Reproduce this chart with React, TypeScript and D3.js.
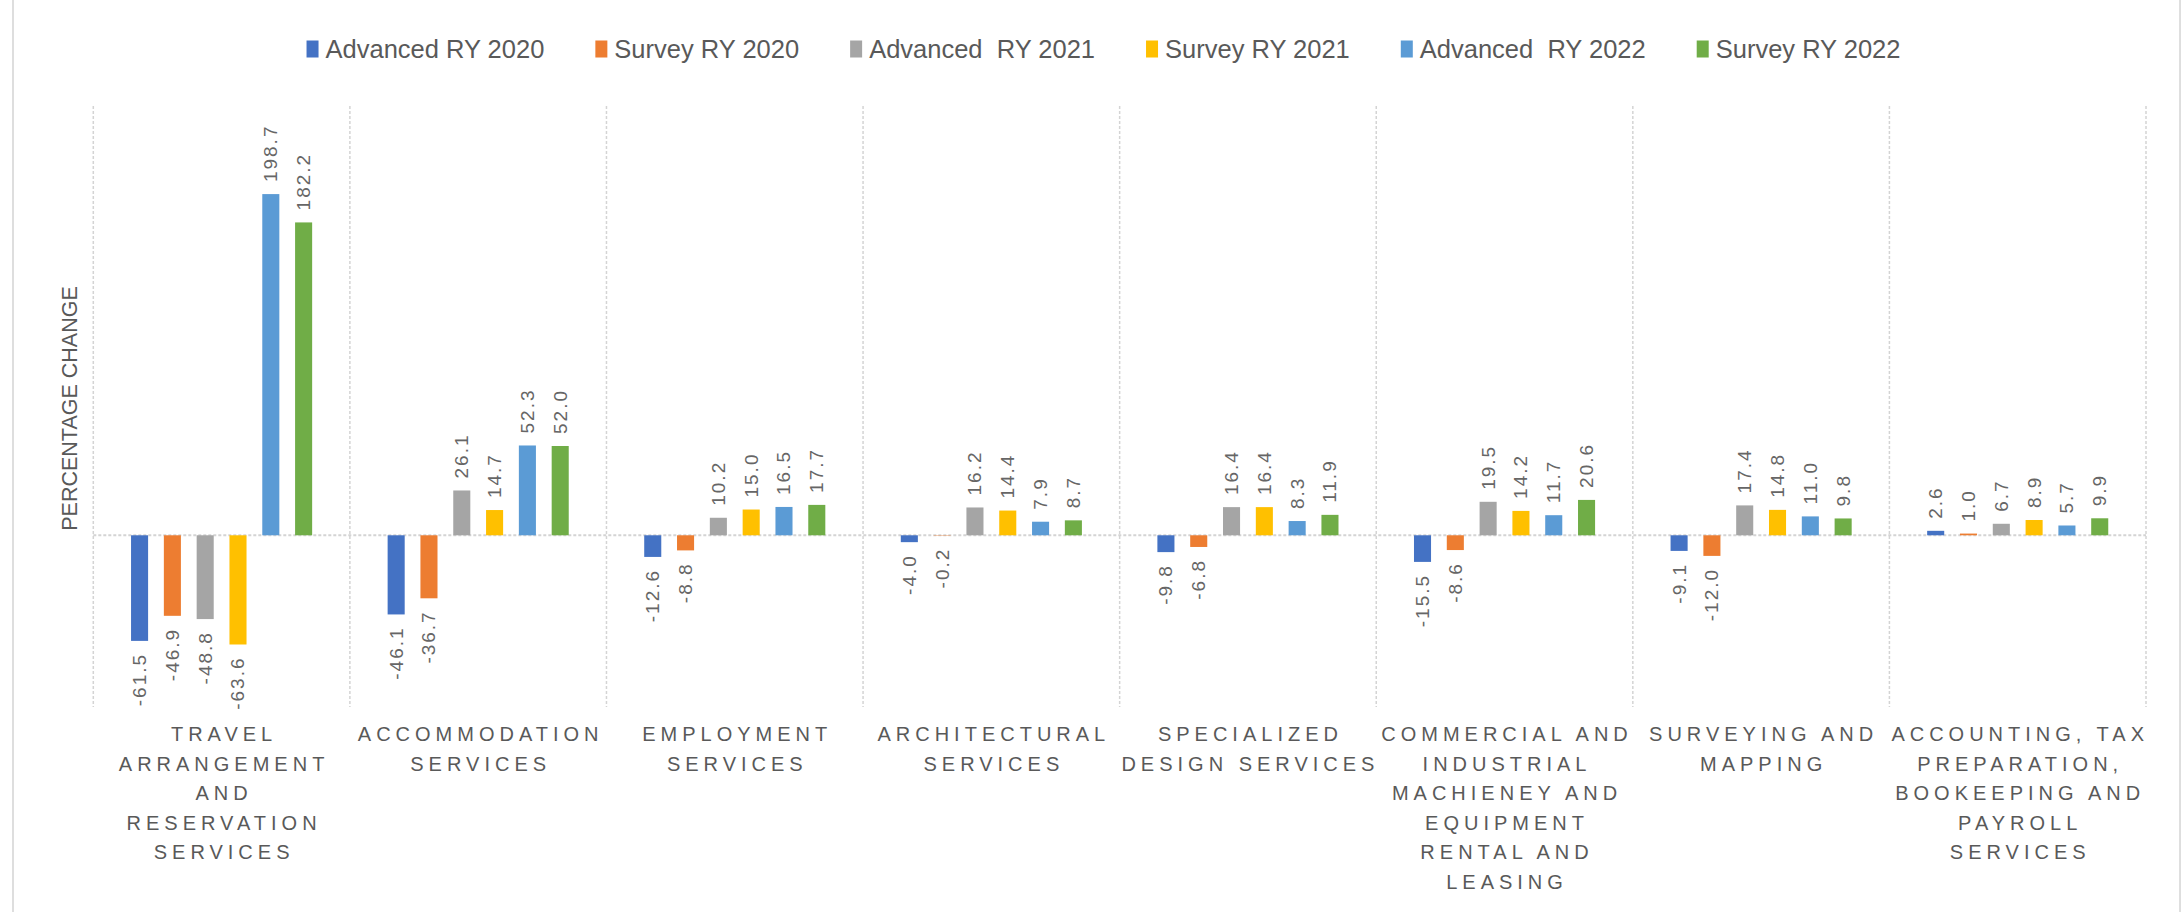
import React, { useEffect, useRef } from "react";
import * as d3 from "d3";

// category labels, already split into the lines the chart shows
const categoryLines: string[][] = [
  ["TRAVEL", "ARRANGEMENT", "AND", "RESERVATION", "SERVICES"],
  ["ACCOMMODATION", "SERVICES"],
  ["EMPLOYMENT", "SERVICES"],
  ["ARCHITECTURAL", "SERVICES"],
  ["SPECIALIZED", "DESIGN SERVICES"],
  ["COMMERCIAL AND", "INDUSTRIAL", "MACHIENEY AND", "EQUIPMENT", "RENTAL AND", "LEASING"],
  ["SURVEYING AND", "MAPPING"],
  ["ACCOUNTING, TAX", "PREPARATION,", "BOOKEEPING AND", "PAYROLL", "SERVICES"],
];

const seriesNames = [
  "Advanced RY 2020",
  "Survey RY 2020",
  "Advanced  RY 2021",
  "Survey RY 2021",
  "Advanced  RY 2022",
  "Survey RY 2022",
];
const seriesColors = ["#4472C4", "#ED7D31", "#A5A5A5", "#FFC000", "#5B9BD5", "#70AD47"];

const advanced2020 = [-61.5, -46.1, -12.6, -4.0, -9.8, -15.5, -9.1, 2.6];
const survey2020 = [-46.9, -36.7, -8.8, -0.2, -6.8, -8.6, -12.0, 1.0];
const advanced2021 = [-48.8, 26.1, 10.2, 16.2, 16.4, 19.5, 17.4, 6.7];
const survey2021 = [-63.6, 14.7, 15.0, 14.4, 16.4, 14.2, 14.8, 8.9];
const advanced2022 = [198.7, 52.3, 16.5, 7.9, 8.3, 11.7, 11.0, 5.7];
const survey2022 = [182.2, 52.0, 17.7, 8.7, 11.9, 20.6, 9.8, 9.9];

const seriesValues = [advanced2020, survey2020, advanced2021, survey2021, advanced2022, survey2022];

const yDomain = [-100, 250];

export default function App() {
  const ref = useRef<SVGSVGElement | null>(null);

  useEffect(() => {
    drawChart();
  }, []);

  function drawChart() {
    const height = 912;
    const plot = { left: 93.3, right: 2146, top: 106, bottom: 707 };

    const svg = d3.select(ref.current);
    svg.selectAll("*").remove();

    const gray = "#595959";
    const grid = "#d4d4d4";

    // outer chart border (left / right edges visible)
    svg.append("rect")
      .attr("x", 13)
      .attr("y", -4)
      .attr("width", 2180 - 13)
      .attr("height", height + 10)
      .attr("fill", "none")
      .attr("stroke", grid)
      .attr("stroke-width", 1.5);

    const catIds = categoryLines.map((_, i) => String(i));

    const x0 = d3.scaleBand<string>()
      .domain(catIds)
      .range([plot.left, plot.right])
      .padding(0);

    const half = 106.3;
    const x1 = d3.scaleBand<string>()
      .domain(seriesNames)
      .range([-half, half])
      .paddingInner(0.48)
      .paddingOuter(0.48);

    const y = d3.scaleLinear()
      .domain(yDomain)
      .range([plot.bottom, plot.top]);

    // vertical separators between categories
    const sepX = catIds.map(c => x0(c) as number).concat([plot.right]);
    svg.append("g")
      .selectAll("line")
      .data(sepX)
      .enter().append("line")
      .attr("x1", d => d)
      .attr("x2", d => d)
      .attr("y1", y(yDomain[1]))
      .attr("y2", y(yDomain[0]))
      .attr("stroke", grid)
      .attr("stroke-width", 1.5)
      .attr("stroke-dasharray", "3,2");

    // zero line
    svg.append("line")
      .attr("x1", plot.left)
      .attr("x2", plot.right)
      .attr("y1", y(0))
      .attr("y2", y(0))
      .attr("stroke", grid)
      .attr("stroke-width", 2)
      .attr("stroke-dasharray", "3,2");

    // bars + value labels
    const flat: { cat: string; s: string; color: string; v: number }[] = [];
    seriesValues.forEach((vals, si) => {
      vals.forEach((v, ci) => {
        flat.push({ cat: catIds[ci], s: seriesNames[si], color: seriesColors[si], v });
      });
    });

    const cx = (d: { cat: string; s: string }) =>
      (x0(d.cat) as number) + x0.bandwidth() / 2 + (x1(d.s) as number) + x1.bandwidth() / 2;

    svg.append("g")
      .selectAll("rect")
      .data(flat)
      .enter().append("rect")
      .attr("x", d => cx(d) - x1.bandwidth() / 2)
      .attr("width", x1.bandwidth())
      .attr("y", d => y(Math.max(0, d.v)))
      .attr("height", d => Math.abs(y(d.v) - y(0)))
      .attr("fill", d => d.color);

    const labelGap = 12;
    svg.append("g")
      .selectAll("text")
      .data(flat)
      .enter().append("text")
      .attr("transform", d => {
        const ty = d.v >= 0 ? y(d.v) - labelGap : y(d.v) + labelGap;
        return `translate(${cx(d)},${ty}) rotate(-90)`;
      })
      .attr("text-anchor", d => (d.v >= 0 ? "start" : "end"))
      .attr("dominant-baseline", "central")
      .style("font-family", "'Liberation Sans', Arial, sans-serif")
      .style("font-size", "19px")
      .style("letter-spacing", "2px")
      .attr("fill", "#666666")
      .text(d => d.v.toFixed(1));

    // category labels
    const catG = svg.append("g")
      .selectAll("text")
      .data(categoryLines)
      .enter().append("text")
      .attr("text-anchor", "middle")
      .style("font-family", "'Liberation Sans', Arial, sans-serif")
      .style("font-size", "20px")
      .style("letter-spacing", "5px")
      .attr("fill", gray);

    catG.each(function (lines, i) {
      const cxc = (x0(catIds[i]) as number) + x0.bandwidth() / 2 + 2.5;
      d3.select(this)
        .selectAll("tspan")
        .data(lines)
        .enter().append("tspan")
        .attr("x", cxc)
        .attr("y", (_, li) => 741 + li * 29.6)
        .text(l => l);
    });

    // y axis title
    svg.append("text")
      .attr("transform", `translate(70,${(y(yDomain[0]) + y(yDomain[1])) / 2 + 2}) rotate(-90)`)
      .attr("text-anchor", "middle")
      .attr("dominant-baseline", "central")
      .style("font-family", "'Liberation Sans', Arial, sans-serif")
      .style("font-size", "21.5px")
      .attr("fill", gray)
      .text("PERCENTAGE CHANGE");

    // legend
    const legend = svg.append("g");
    const items = legend.selectAll("g")
      .data(seriesNames)
      .enter().append("g");
    items.append("rect")
      .attr("width", 12)
      .attr("height", 17)
      .attr("y", 49 - 8.5)
      .attr("fill", (_, i) => seriesColors[i]);
    items.append("text")
      .attr("x", 19)
      .attr("y", 49)
      .attr("dominant-baseline", "central")
      .style("font-family", "'Liberation Sans Narrow', 'Liberation Sans', Arial, sans-serif")
      .style("font-size", "25.5px")
      .style("white-space", "pre")
      .attr("fill", gray)
      .text(d => d);

    const widths: number[] = [];
    items.select("text").each(function () {
      widths.push((this as SVGTextElement).getComputedTextLength() + 19);
    });
    const itemGap = 51;
    const total = d3.sum(widths) + itemGap * (widths.length - 1);
    let cur = 1103.5 - total / 2;
    items.attr("transform", (_, i) => {
      const t = `translate(${cur},0)`;
      cur += widths[i] + itemGap;
      return t;
    });
  }

  return (
    <svg
      ref={ref}
      width={2183}
      height={912}
      style={{ position: "absolute", left: 0, top: 0, background: "#fff" }}
    />
  );
}
